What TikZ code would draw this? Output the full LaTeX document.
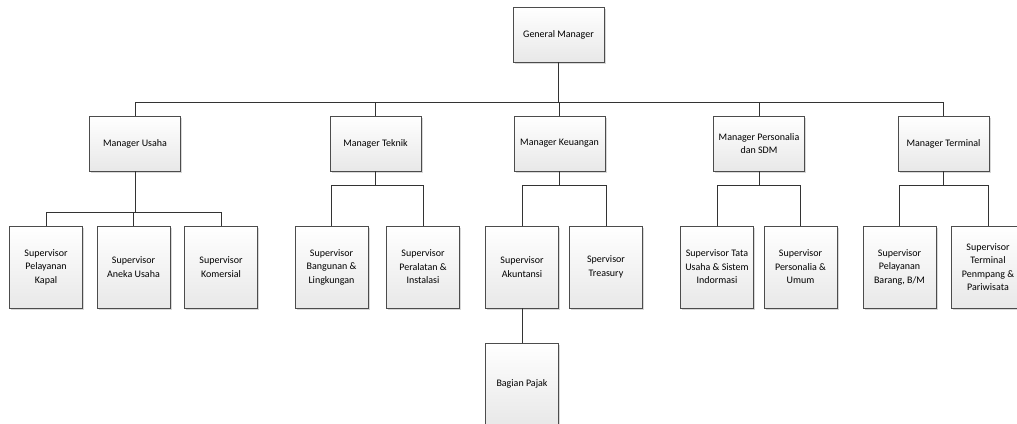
\documentclass[tikz,border=0pt]{standalone}
\usepackage{fontspec}
\setmainfont{Carlito}
\usetikzlibrary{shadows}
\begin{document}
\begin{tikzpicture}[x=1pt,y=-1pt,
  orgbox/.style={draw=black!70, line width=0.6pt, top color=white, bottom color=black!9,
    drop shadow={shadow xshift=1.8pt, shadow yshift=-1.8pt, fill=black!25, opacity=0.6},
    align=center, inner sep=1pt, font=\fontsize{10}{13.5}\selectfont},
  mgr/.style={orgbox, minimum width=91pt, minimum height=55pt},
  sup/.style={orgbox, minimum width=73pt, minimum height=82pt},
  link/.style={draw=black!80, line width=0.8pt}]
\useasboundingbox (0,0) rectangle (1017,423);
\clip (0,0) rectangle (1017,423);
\fill[white] (0,0) rectangle (1017,423);
% top
\node[mgr] (gm) at (558.5,34.5) {General Manager};
% managers
\node[mgr] (mu) at (135,143.5) {Manager Usaha};
\node[mgr] (mt) at (375.5,143.5) {Manager Teknik};
\node[mgr] (mk) at (559.5,143.5) {Manager Keuangan};
\node[mgr] (mp) at (759,143.5) {Manager Personalia\\dan SDM};
\node[mgr] (mm) at (943.5,143.5) {Manager Terminal};
% supervisors
\node[sup] (s1) at (46,267) {Supervisor\\Pelayanan\\Kapal};
\node[sup] (s2) at (133.5,267) {Supervisor\\Aneka Usaha};
\node[sup] (s3) at (221,267) {Supervisor\\Komersial};
\node[sup] (s4) at (331.5,267) {Supervisor\\Bangunan \&\\Lingkungan};
\node[sup] (s5) at (423,267) {Supervisor\\Peralatan \&\\Instalasi};
\node[sup] (s6) at (522,267) {Supervisor\\Akuntansi};
\node[sup] (s7) at (606,267) {Spervisor\\Treasury};
\node[sup] (s8) at (717,267) {Supervisor Tata\\Usaha \& Sistem\\Indormasi};
\node[sup] (s9) at (800.5,267) {Supervisor\\Personalia \&\\Umum};
\node[sup] (s10) at (899.5,267) {Supervisor\\Pelayanan\\Barang, B/M};
\node[sup] (s11) at (988,267) {Supervisor\\Terminal\\Penmpang \&\\Pariwisata};
\node[sup] (pj) at (522,384) {Bagian Pajak};
% connectors
\foreach \m in {mu,mt,mk,mp,mm}{\draw[link] (gm.south) -- ++(0,40) -| (\m.north);}
\foreach \s in {s1,s2,s3}{\draw[link] (mu.south) -- ++(0,41) -| (\s.north);}
\foreach \s in {s4,s5}{\draw[link] (mt.south) -- ++(0,14) -| (\s.north);}
\foreach \s in {s6,s7}{\draw[link] (mk.south) -- ++(0,14) -| (\s.north);}
\foreach \s in {s8,s9}{\draw[link] (mp.south) -- ++(0,14) -| (\s.north);}
\foreach \s in {s10,s11}{\draw[link] (mm.south) -- ++(0,14) -| (\s.north);}
\draw[link] (s6.south) -- (pj.north);
\end{tikzpicture}
\end{document}
